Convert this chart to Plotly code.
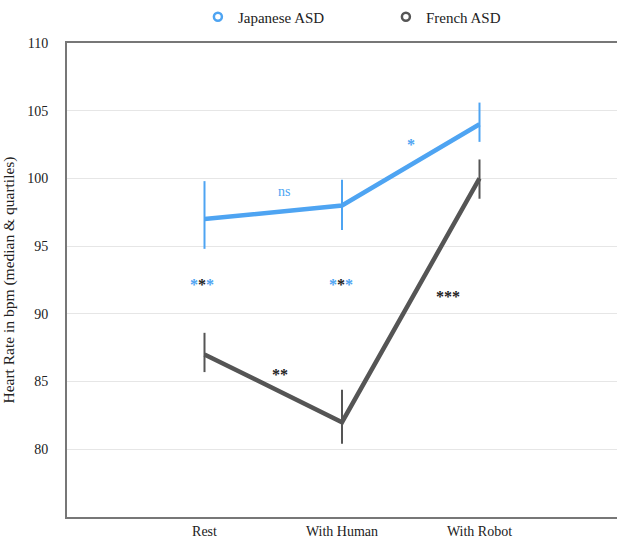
import plotly.graph_objects as go

conditions = ["Rest", "With Human", "With Robot"]

jp_median = [97, 98, 104]
jp_q1 = [94.8, 96.2, 102.7]
jp_q3 = [99.8, 99.9, 105.6]

fr_median = [87, 82, 100]
fr_q1 = [85.7, 80.4, 98.5]
fr_q3 = [88.6, 84.4, 101.4]

BLUE = "#4ea4f2"
GREY = "#555555"
FONT = "Liberation Serif, Times New Roman, serif"

x_idx = list(range(len(conditions)))


def series(name, med, q1, q3, color):
    return go.Scatter(
        x=x_idx, y=med, mode="lines", name=name, showlegend=False,
        line=dict(color=color, width=4.5),
        error_y=dict(type="data", symmetric=False,
                     array=[h - m for h, m in zip(q3, med)],
                     arrayminus=[m - l for m, l in zip(med, q1)],
                     color=color, thickness=2, width=0),
    )


fig = go.Figure()
fig.add_trace(series("Japanese ASD", jp_median, jp_q1, jp_q3, BLUE))
fig.add_trace(series("French ASD", fr_median, fr_q1, fr_q3, GREY))

# legend entries with open-circle markers only
for name, color in [("Japanese ASD", BLUE), ("French ASD", GREY)]:
    fig.add_trace(go.Scatter(
        x=[None], y=[None], mode="markers", name=name,
        marker=dict(symbol="circle-open", size=8, color=color, line=dict(width=2.5, color=color)),
    ))

blue_star = f"<span style='color:{BLUE}'>*</span>"
black_star = "<span style='color:#222222'>*</span>"
mixed = "<b>" + blue_star + black_star + blue_star + "</b>"

notes = [
    (0.58, 99.0, "ns", BLUE, 14),
    (1.50, 102.5, "<b>*</b>", BLUE, 16),
    (0.55, 85.5, "<b>**</b>", "#222222", 16),
    (1.77, 91.3, "<b>***</b>", "#222222", 16),
    (-0.02, 92.2, mixed, BLUE, 16),
    (0.99, 92.2, mixed, BLUE, 16),
]
for x, y, t, c, s in notes:
    fig.add_annotation(x=x, y=y, text=t, showarrow=False,
                       font=dict(color=c, size=s, family=FONT))

fig.update_layout(
    width=617, height=541,
    margin=dict(l=67, r=0, t=43, b=24),
    paper_bgcolor="white", plot_bgcolor="white",
    font=dict(family=FONT, size=14, color="#222222"),
    legend=dict(orientation="h", x=0.238, xanchor="left", y=1.055, yanchor="middle",
                font=dict(size=15, family=FONT), itemwidth=30,
                entrywidth=143, traceorder="normal"),
    xaxis=dict(
        range=[-1, 3], tickmode="array", tickvals=x_idx, ticktext=conditions,
        showgrid=False, zeroline=False, showline=True, mirror=True,
        linecolor="#777777", linewidth=2, ticks="", tickfont=dict(size=14),
    ),
    yaxis=dict(
        range=[75, 110], tickvals=[80, 85, 90, 95, 100, 105, 110],
        showgrid=True, gridcolor="#e6e6e6", gridwidth=1, zeroline=False,
        showline=True, linecolor="#777777", linewidth=2, ticks="",
        ticklabelstandoff=14, tickfont=dict(size=14),
        title=dict(text="Heart Rate in bpm (median & quartiles)", font=dict(size=15.5), standoff=12),
    ),
)

fig.write_html("out.html")
